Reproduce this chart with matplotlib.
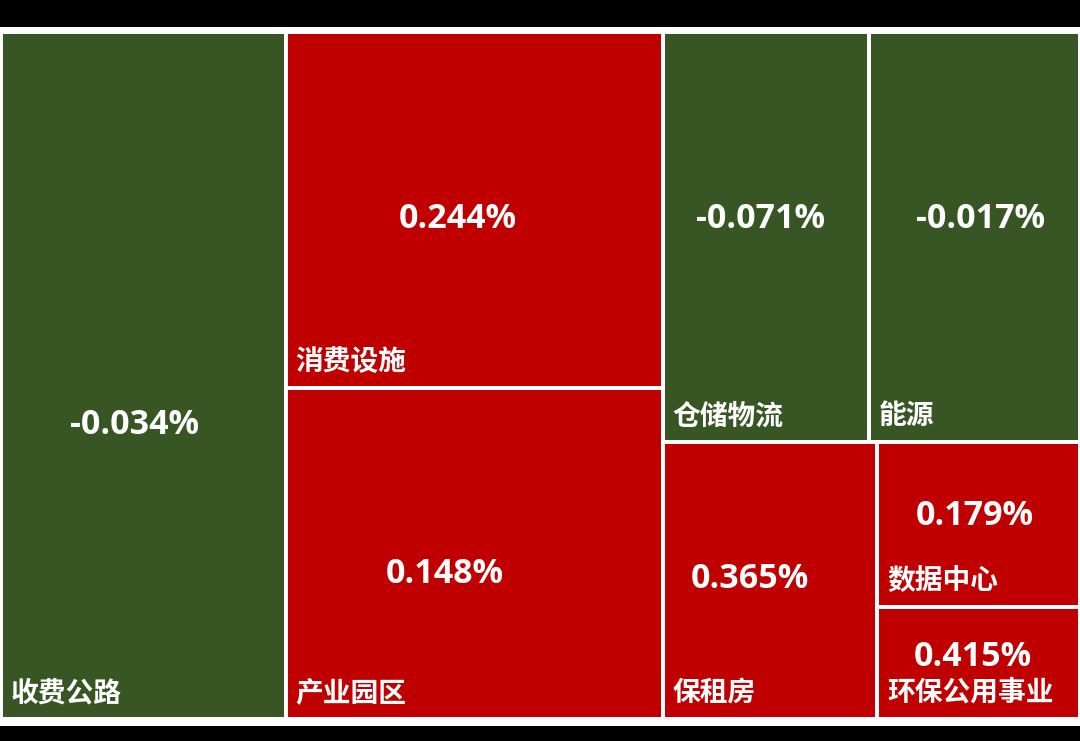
import matplotlib
matplotlib.use('Agg')
import matplotlib.pyplot as plt
from matplotlib.patches import Rectangle

# ---- data ----
categories = ['收费公路', '消费设施', '产业园区', '仓储物流', '能源', '保租房', '数据中心', '环保公用事业']
changes = [-0.034, 0.244, 0.148, -0.071, -0.017, 0.365, 0.179, 0.415]
weights = [194, 133, 124, 84, 86, 59, 33, 22.6]

# ---- layout structure ('h' = side by side, 'v' = stacked); leaves are indices ----
structure = ('h', [0, ('v', [1, 2]), ('v', [('h', [3, 4]), ('h', [5, ('v', [6, 7])])])])

# value label placement inside each tile (fractions of tile width / height from top)
val_fx = [0.468, 0.456, 0.421, 0.475, 0.529, 0.405, 0.48, 0.47]
val_fy = [0.568, 0.518, 0.555, 0.449, 0.449, 0.483, 0.43, 0.42]

RED = '#C00000'
GREEN = '#375623'
NUM_FONT = ['Open Sans', 'DejaVu Sans']
CJK_FONT = ['Noto Sans CJK SC', 'DejaVu Sans']


def node_weight(node):
    if isinstance(node, int):
        return weights[node]
    return sum(node_weight(c) for c in node[1])


def layout(node, x, y, w, h, out):
    if isinstance(node, int):
        out[node] = (x, y, w, h)
        return
    kind, children = node
    total = node_weight(node)
    pos = 0.0
    for c in children:
        frac = node_weight(c) / total
        if kind == 'h':
            layout(c, x + pos * w, y, frac * w, h, out)
        else:
            layout(c, x, y + pos * h, w, frac * h, out)
        pos += frac


W, H = 1080, 741
fig = plt.figure(figsize=(W / 100, H / 100), dpi=100, facecolor='white')
ax = fig.add_axes([0, 0, 1, 1])
ax.set_xlim(0, W)
ax.set_ylim(H, 0)
ax.axis('off')

# black bands (screenshot frame)
ax.add_patch(Rectangle((0, 0), W, 27, facecolor='black', edgecolor='none'))
ax.add_patch(Rectangle((0, 726), W, H - 726, facecolor='black', edgecolor='none'))

rects = {}
layout(structure, 1, 32, 1079, 687, rects)

gap = 2.0
for i, name in enumerate(categories):
    x, y, w, h = rects[i]
    color = RED if changes[i] >= 0 else GREEN
    ax.add_patch(Rectangle((x + gap, y + gap), w - 2 * gap, h - 2 * gap,
                           facecolor=color, edgecolor='none'))
    ax.text(x + val_fx[i] * w, y + val_fy[i] * h + 3, f'{changes[i]:.3f}%',
            ha='center', va='center', color='white', fontsize=24.5,
            fontweight='bold', family=NUM_FONT)
    ax.text(x + gap + 8, y + h - gap - 24, name, ha='left', va='center',
            color='white', fontsize=20, fontweight='bold', family=CJK_FONT)

fig.savefig('out.png', dpi=100, facecolor='white')
